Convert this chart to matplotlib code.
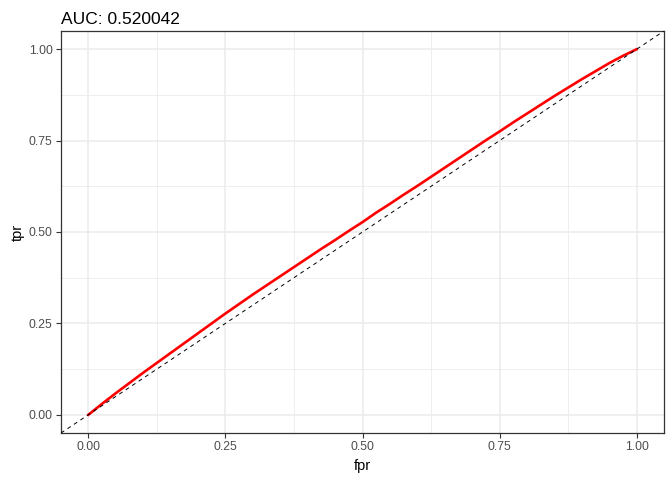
import numpy as np
import matplotlib
matplotlib.use("Agg")
import matplotlib.pyplot as plt

plt.rcParams['font.family'] = ['Liberation Sans', 'DejaVu Sans']

# ROC curve points
fpr = [0.000, 0.025, 0.050, 0.075, 0.100, 0.125, 0.150, 0.175, 0.200, 0.225,
       0.250, 0.275, 0.300, 0.325, 0.350, 0.375, 0.400, 0.425, 0.450, 0.475,
       0.500, 0.525, 0.550, 0.575, 0.600, 0.625, 0.650, 0.675, 0.700, 0.725,
       0.750, 0.775, 0.800, 0.825, 0.850, 0.875, 0.900, 0.925, 0.950, 0.975, 1.000]
tpr = [0.000, 0.030, 0.059, 0.087, 0.115, 0.142, 0.169, 0.196, 0.223, 0.250,
       0.277, 0.303, 0.329, 0.354, 0.379, 0.404, 0.429, 0.454, 0.478, 0.503,
       0.527, 0.553, 0.577, 0.602, 0.626, 0.651, 0.676, 0.701, 0.726, 0.751,
       0.775, 0.800, 0.824, 0.848, 0.872, 0.895, 0.918, 0.940, 0.962, 0.982, 1.000]
auc = "0.520042"
ticks = [0.00, 0.25, 0.50, 0.75, 1.00]
tick_labels = ["0.00", "0.25", "0.50", "0.75", "1.00"]

fig = plt.figure(figsize=(6.72, 4.8), dpi=100)
ax = fig.add_axes([61/672, 1 - 433/480, (664 - 61)/672, (433 - 31)/480])

ax.set_xlim(-0.05, 1.05)
ax.set_ylim(-0.05, 1.05)

# grid like theme_bw
ax.set_xticks(ticks)
ax.set_yticks(ticks)
ax.set_xticks([0.125, 0.375, 0.625, 0.875], minor=True)
ax.set_yticks([0.125, 0.375, 0.625, 0.875], minor=True)
ax.grid(which='major', color='#EBEBEB', lw=1.1, zorder=0)
ax.grid(which='minor', color='#EBEBEB', lw=0.6, zorder=0)
ax.set_axisbelow(True)
ax.tick_params(which='minor', length=0)
ax.tick_params(which='major', length=3.5, width=0.8, color='#333333',
               labelsize=8.8, labelcolor='#4D4D4D', pad=2.5)
ax.set_xticklabels(tick_labels)
ax.set_yticklabels(tick_labels)

for s in ax.spines.values():
    s.set_color('#333333')
    s.set_linewidth(0.9)

ax.plot(fpr, tpr, color='red', lw=1.9, zorder=3)
ax.axline((0, 0), slope=1, color='black', lw=0.7, linestyle=(0, (4, 4)), zorder=4)

ax.set_xlabel('fpr', fontsize=10.5, labelpad=4)
ax.set_ylabel('tpr', fontsize=10.5, labelpad=3)
ax.set_title('AUC: ' + auc, loc='left', fontsize=12.5, pad=5)

fig.savefig('out.png', dpi=100)
